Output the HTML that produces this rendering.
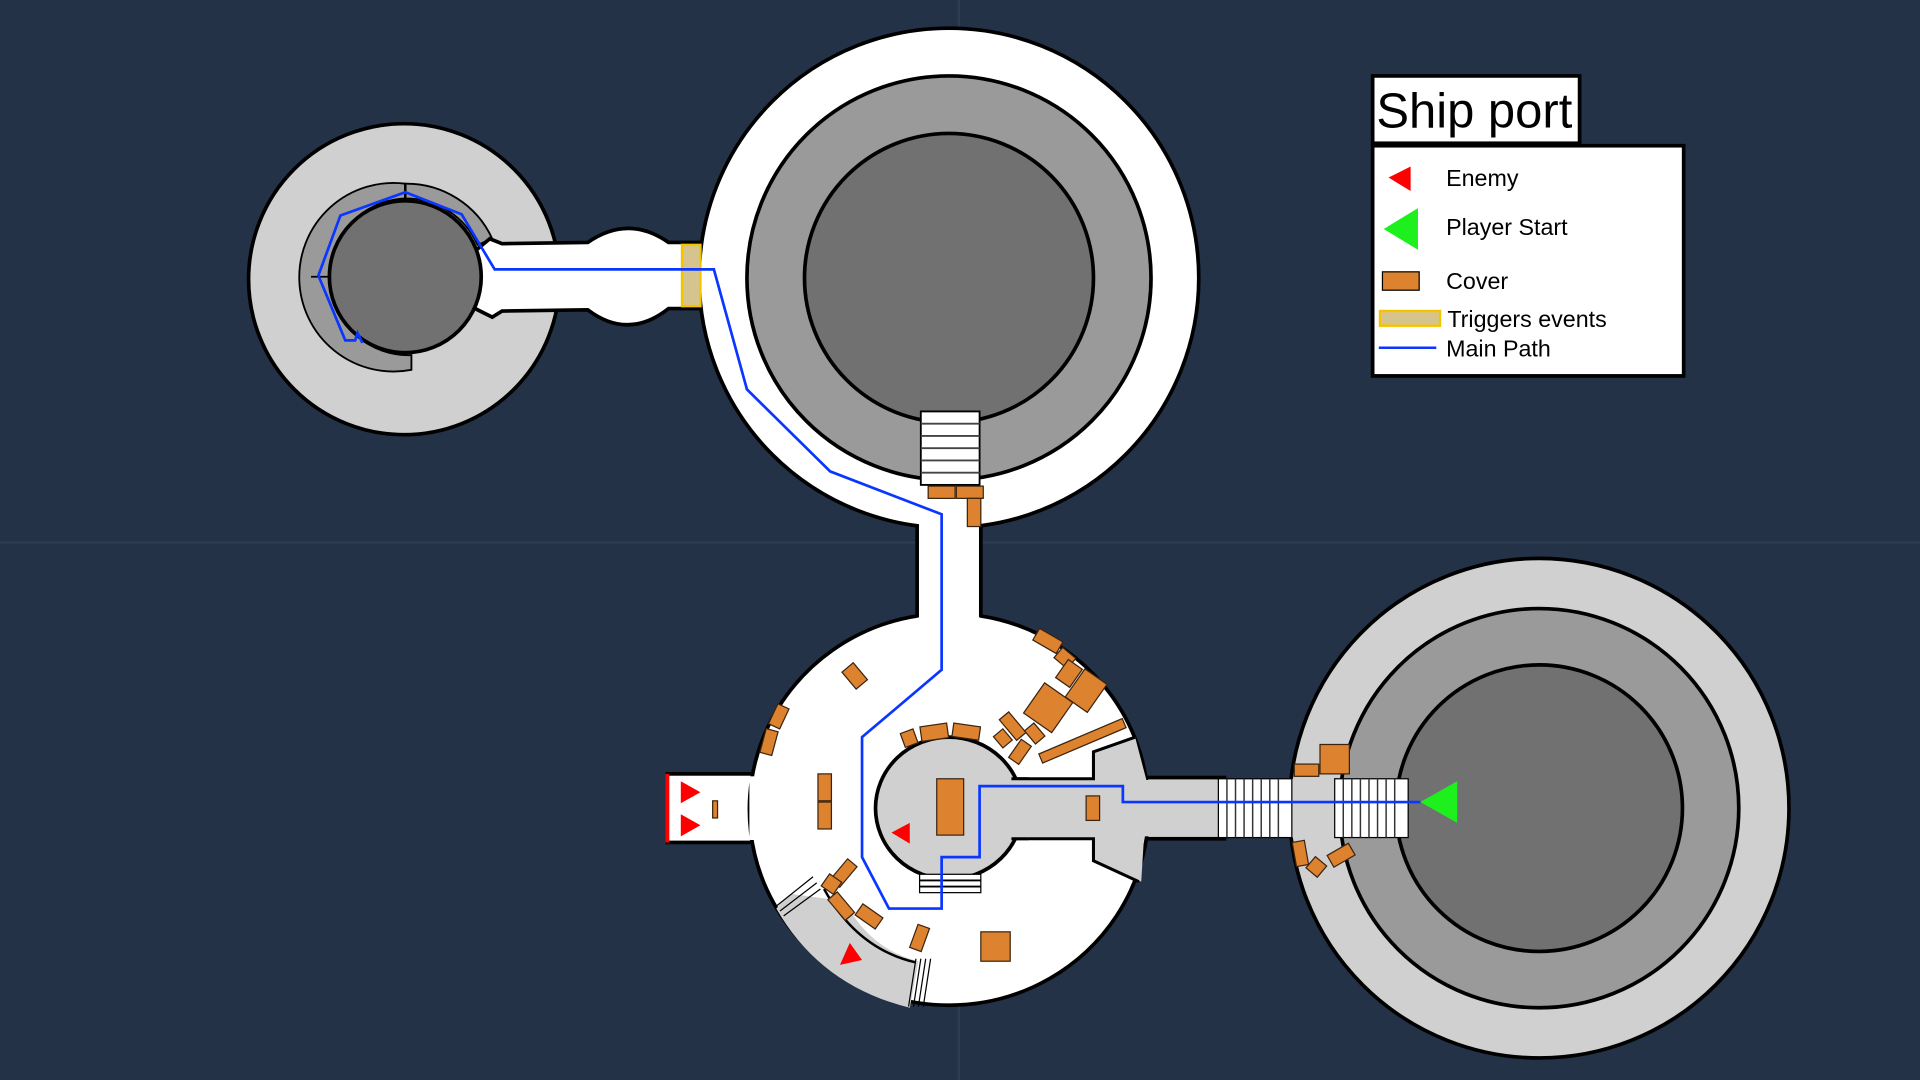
<!DOCTYPE html>
<html><head><meta charset="utf-8"><style>
html,body{margin:0;padding:0;background:#233246;}
svg{display:block;width:1920px;height:1080px;}
text{font-family:"Liberation Sans",Arial,sans-serif;}
</style></head><body>
<svg viewBox="0 0 1568 882" xmlns="http://www.w3.org/2000/svg" preserveAspectRatio="none">
<rect width="1568" height="882" fill="#233246"/>
<line x1="783" y1="0" x2="783" y2="882" stroke="#2d3d51" stroke-width="2"/>
<line x1="0" y1="443" x2="1568" y2="443" stroke="#2d3d51" stroke-width="2"/>

<!-- left circle -->
<circle cx="330" cy="228" r="127" fill="#d0d0d0" stroke="#000" stroke-width="3"/>
<path d="M331,150 A77,77 0 1,0 336,302 L336,290 A64,64 0 1,1 331,162 Z" fill="#9a9a9a" stroke="#000" stroke-width="1.5"/>
<path d="M331,150 A77,77 0 0,1 402,195 L390,200 A64,64 0 0,0 331,162 Z" fill="#9a9a9a" stroke="#000" stroke-width="1.5"/>
<line x1="331" y1="150" x2="331" y2="162" stroke="#000" stroke-width="2"/>
<line x1="254" y1="226" x2="268" y2="226" stroke="#000" stroke-width="1.5"/>
<!-- corridor left -->
<path d="M388,205 L400,195 L410,199 L480,198 Q513,175 546,198 L575,198 L575,252 L546,252 Q513,278 480,253 L410,254 L402,259 L388,252 Z" fill="#fff" stroke="#000" stroke-width="3"/>
<circle cx="331" cy="226" r="62" fill="#717171" stroke="#000" stroke-width="3"/>

<!-- top big circle -->
<circle cx="775" cy="227" r="204" fill="#fff" stroke="#000" stroke-width="3"/>
<rect x="557" y="200" width="15" height="50" fill="#d6c48f" stroke="#f5c400" stroke-width="2"/>
<circle cx="775" cy="227" r="165" fill="#9a9a9a" stroke="#000" stroke-width="3"/>
<circle cx="775" cy="227" r="118" fill="#717171" stroke="#000" stroke-width="3"/>
<g stroke="#000"><rect x="752" y="336" width="48" height="60" fill="#fff" stroke-width="1.5"/>
<g stroke="#444" stroke-width="1.5"><line x1="752" y1="346" x2="800" y2="346"/><line x1="752" y1="356" x2="800" y2="356"/><line x1="752" y1="366" x2="800" y2="366"/><line x1="752" y1="376" x2="800" y2="376"/><line x1="752" y1="386" x2="800" y2="386"/></g></g>

<!-- bottom circle -->
<rect x="545" y="632" width="80" height="56" fill="#fff" stroke="#000" stroke-width="3"/>
<line x1="545" y1="632" x2="545" y2="688" stroke="#f00" stroke-width="3"/>
<rect x="930" y="635" width="70" height="50" fill="#d0d0d0" stroke="#000" stroke-width="3"/>
<path d="M749,503 A163,160 0 1,0 801,503 Z" fill="#fff" stroke="#000" stroke-width="3"/>
<!-- vertical corridor -->
<rect x="750" y="415" width="50" height="95" fill="#fff"/>
<line x1="749" y1="428" x2="749" y2="504" stroke="#000" stroke-width="3"/>
<line x1="801" y1="428" x2="801" y2="504" stroke="#000" stroke-width="3"/>
<rect x="612" y="634" width="20" height="52" fill="#fff"/>
<rect x="920" y="637" width="20" height="46" fill="#d0d0d0"/>
<path d="M634,742 Q640,735 646,730 L690,736 Q710,775 750,785 L743,823 Q670,805 634,742 Z" fill="#d0d0d0"/>
<path d="M828,636 L893,636 L893,614 L927,602 L937,640 L932,720 L893,703 L893,685 L828,685 Z" fill="#d0d0d0"/>
<path d="M827,636 L893,636 L893,614 L927,602" fill="none" stroke="#000" stroke-width="2.5"/>
<path d="M827,685 L893,685 L893,703 L930,720" fill="none" stroke="#000" stroke-width="2.5"/>
<path d="M673,726 Q700,775 748,786" fill="none" stroke="#000" stroke-width="2"/>
<ellipse cx="775" cy="660" rx="60" ry="58" fill="#d0d0d0" stroke="#000" stroke-width="3"/>
<rect x="800" y="637" width="40" height="48" fill="#d0d0d0"/>
<line x1="826" y1="636" x2="840" y2="636" stroke="#000" stroke-width="2.5"/>
<line x1="826" y1="685" x2="840" y2="685" stroke="#000" stroke-width="2.5"/>
<g fill="#fff" stroke="#000" stroke-width="1"><rect x="751" y="714" width="50" height="15"/><line x1="751" y1="719" x2="801" y2="719" stroke-width="1.5"/><line x1="751" y1="724" x2="801" y2="724" stroke-width="1.5"/></g>
<g stroke="#000" stroke-width="1" fill="none"><line x1="634" y1="740" x2="664" y2="716"/><line x1="637" y1="744" x2="667" y2="721"/><line x1="640" y1="748" x2="670" y2="726"/><line x1="742" y1="822" x2="748" y2="783"/><line x1="746" y1="822" x2="752" y2="783"/><line x1="750" y1="822" x2="756" y2="783"/><line x1="754" y1="822" x2="760" y2="783"/></g>

<!-- right circle -->
<circle cx="1257" cy="660" r="204" fill="#d0d0d0" stroke="#000" stroke-width="3"/>
<circle cx="1257" cy="660" r="163" fill="#9a9a9a" stroke="#000" stroke-width="3"/>
<circle cx="1257" cy="660" r="117" fill="#717171" stroke="#000" stroke-width="3"/>
<rect x="1055" y="636" width="36" height="48" fill="#d0d0d0"/>
<g fill="#fff" stroke="#000" stroke-width="1"><rect x="995" y="636" width="60" height="48"/><rect x="1090" y="636" width="60" height="48"/></g>
<g stroke="#333" stroke-width="1.2">
<line x1="1002" y1="636" x2="1002" y2="684"/><line x1="1009" y1="636" x2="1009" y2="684"/><line x1="1016" y1="636" x2="1016" y2="684"/><line x1="1023" y1="636" x2="1023" y2="684"/><line x1="1030" y1="636" x2="1030" y2="684"/><line x1="1037" y1="636" x2="1037" y2="684"/><line x1="1044" y1="636" x2="1044" y2="684"/>
<line x1="1097" y1="636" x2="1097" y2="684"/><line x1="1104" y1="636" x2="1104" y2="684"/><line x1="1111" y1="636" x2="1111" y2="684"/><line x1="1118" y1="636" x2="1118" y2="684"/><line x1="1125" y1="636" x2="1125" y2="684"/><line x1="1132" y1="636" x2="1132" y2="684"/><line x1="1139" y1="636" x2="1139" y2="684"/></g>

<!-- covers -->
<g fill="#dd822e" stroke="#3a2410" stroke-width="1">
<rect x="758" y="397" width="22" height="10"/><rect x="781" y="397" width="22" height="10"/><rect x="790" y="407" width="11" height="23"/>
<rect x="765" y="636" width="22" height="46"/><rect x="887" y="650" width="11" height="20"/><rect x="668" y="632" width="11" height="22"/><rect x="668" y="655" width="11" height="22"/><rect x="582" y="654" width="4" height="14"/>
<rect x="801" y="761" width="24" height="24"/><rect x="1078" y="608" width="24" height="24"/><rect x="1057" y="624" width="20" height="10"/>
<rect x="692" y="543" width="12" height="18" transform="rotate(-40 698 552)"/>
<rect x="631" y="576" width="10" height="18" transform="rotate(25 636 585)"/>
<rect x="623" y="596" width="10" height="20" transform="rotate(15 628 606)"/>
<rect x="737" y="597" width="11" height="12" transform="rotate(-20 742 603)"/>
<rect x="752" y="592" width="22" height="12" transform="rotate(-8 763 598)"/>
<rect x="778" y="592" width="22" height="11" transform="rotate(8 789 598)"/>
<rect x="845" y="518" width="22" height="11" transform="rotate(30 856 523)"/>
<rect x="863" y="532" width="14" height="11" transform="rotate(40 870 537)"/>
<rect x="866" y="541" width="14" height="18" transform="rotate(35 873 550)"/>
<rect x="876" y="550" width="22" height="28" transform="rotate(35 887 564)"/>
<rect x="842" y="563" width="28" height="30" transform="rotate(35 856 578)"/>
<rect x="822" y="582" width="10" height="22" transform="rotate(-40 827 593)"/>
<rect x="814" y="597" width="10" height="12" transform="rotate(-40 819 603)"/>
<rect x="840" y="592" width="10" height="14" transform="rotate(-40 845 599)"/>
<rect x="828" y="605" width="10" height="18" transform="rotate(35 833 614)"/>
<rect x="847" y="601" width="74" height="8" transform="rotate(-23 884 605)"/>
<rect x="684" y="702" width="10" height="22" transform="rotate(40 689 713)"/>
<rect x="673" y="716" width="12" height="12" transform="rotate(35 679 722)"/>
<rect x="682" y="729" width="10" height="22" transform="rotate(-40 687 740)"/>
<rect x="700" y="743" width="20" height="11" transform="rotate(35 710 748)"/>
<rect x="746" y="756" width="10" height="20" transform="rotate(20 751 766)"/>
<rect x="1057" y="687" width="10" height="20" transform="rotate(-10 1062 697)"/>
<rect x="1069" y="702" width="12" height="12" transform="rotate(40 1075 708)"/>
<rect x="1085" y="693" width="20" height="11" transform="rotate(-30 1095 698)"/>
</g>

<!-- main path -->
<polyline points="296,280 292,272 290,278 282,278 260,225 278,176 331,157 377,175 404,220 583,220 610,318 678,385 769,420 769,547 704,602 704,700 726,742 769,742 769,700 800,700 800,642 917,642 917,655 1160,655" fill="none" stroke="#0a36ff" stroke-width="2.2"/>

<!-- enemies -->
<g fill="#f00">
<polygon points="556,638 572,647 556,656"/><polygon points="556,665 572,674 556,683"/>
<polygon points="743,672 728,680 743,689"/><polygon points="694,770 686,788 704,784"/>
</g>
<polygon points="1160,655 1190,638 1190,672" fill="#1ef01e"/>

<!-- legend -->
<rect x="1121" y="62" width="169" height="55" fill="#fff" stroke="#000" stroke-width="3"/>
<text x="1124" y="104" font-size="40" fill="#000">Ship port</text>
<rect x="1121" y="119" width="254" height="188" fill="#fff" stroke="#000" stroke-width="3"/>
<polygon points="1134,145 1152,136 1152,156" fill="#f00"/>
<polygon points="1130,187 1158,170 1158,204" fill="#1ef01e"/>
<rect x="1129" y="222" width="30" height="15" fill="#dd822e" stroke="#000" stroke-width="1"/>
<rect x="1127" y="254" width="49" height="12" fill="#d6c48f" stroke="#f5c400" stroke-width="2"/>
<line x1="1126" y1="284" x2="1173" y2="284" stroke="#0a36ff" stroke-width="2"/>
<g font-size="19" fill="#000">
<text x="1181" y="152">Enemy</text><text x="1181" y="192">Player Start</text><text x="1181" y="236">Cover</text>
<text x="1182" y="267">Triggers events</text><text x="1181" y="291">Main Path</text></g>
</svg>
</body></html>
